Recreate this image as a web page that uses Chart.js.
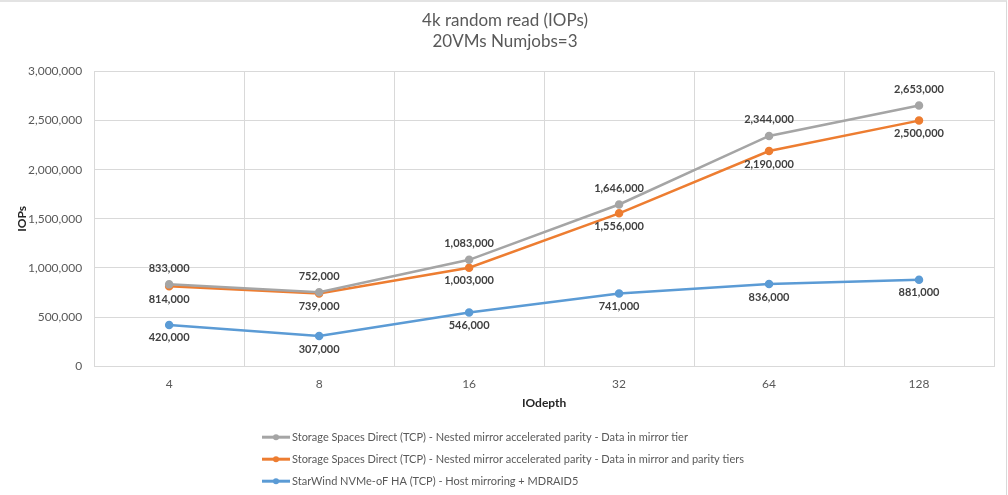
<!DOCTYPE html>
<html>
<head>
<meta charset="utf-8">
<script src="https://cdn.jsdelivr.net/npm/chart.js@4.4.1/dist/chart.umd.min.js"></script>
<style>
  body { margin: 0; background: #fff; }
  #wrap {
    width: 1006px; height: 493px;
    border-top: 2px solid #e3e3e3;
    border-right: 1px solid #d9d9d9;
    position: relative;
  }
</style>
</head>
<body>
<div id="wrap"><canvas id="iopsChart"></canvas></div>
<script>
// Chart data
var ioDepths = ['4', '8', '16', '32', '64', '128'];
var s2dMirrorTier = [833000, 752000, 1083000, 1646000, 2344000, 2653000];
var s2dMirrorParity = [814000, 739000, 1003000, 1556000, 2190000, 2500000];
var starwindMdraid = [420000, 307000, 546000, 741000, 836000, 881000];
var seriesNames = [
  'Storage Spaces Direct (TCP) - Nested mirror accelerated parity - Data in mirror tier',
  'Storage Spaces Direct (TCP) - Nested mirror accelerated parity - Data in mirror and parity tiers',
  'StarWind NVMe-oF HA (TCP) - Host mirroring + MDRAID5'
];

var FONT = 'Lato, "Open Sans", sans-serif';
var TEXT_COLOR = '#595959';

function fmt(v) {
  return Number(v).toLocaleString('en-US');
}

// draws the value labels next to each point (above or below)
var pointLabels = {
  id: 'pointLabels',
  afterDatasetsDraw: function (chart) {
    var ctx = chart.ctx;
    ctx.save();
    ctx.font = 'bold 11px ' + FONT;
    ctx.fillStyle = '#404040';
    ctx.textAlign = 'center';
    ctx.textBaseline = 'middle';
    chart.data.datasets.forEach(function (ds, i) {
      var meta = chart.getDatasetMeta(i);
      meta.data.forEach(function (pt, j) {
        var dy = ds.labelPos === 'above' ? -16 : 13;
        ctx.fillText(fmt(ds.data[j]), pt.x, pt.y + dy);
      });
    });
    ctx.restore();
  }
};

// y axis title + stacked legend under the plot, like the excel one
var extras = {
  id: 'extras',
  afterDraw: function (chart) {
    var ctx = chart.ctx;
    var area = chart.chartArea;
    ctx.save();
    ctx.font = 'bold 12px ' + FONT;
    ctx.fillStyle = '#262626';
    ctx.textAlign = 'center';
    ctx.textBaseline = 'middle';
    ctx.translate(22, (area.top + area.bottom) / 2);
    ctx.rotate(-Math.PI / 2);
    ctx.fillText('IOPs', 0, 0);
    ctx.restore();

    ctx.save();
    ctx.font = '11px ' + FONT;
    ctx.textAlign = 'left';
    ctx.textBaseline = 'middle';
    var x0 = 262;
    chart.data.datasets.forEach(function (ds, i) {
      var y = area.bottom + 71 + i * 22;
      ctx.strokeStyle = ds.borderColor;
      ctx.lineWidth = 3;
      ctx.beginPath();
      ctx.moveTo(x0, y);
      ctx.lineTo(x0 + 28, y);
      ctx.stroke();
      ctx.fillStyle = ds.borderColor;
      ctx.beginPath();
      ctx.arc(x0 + 14, y, 3, 0, Math.PI * 2);
      ctx.fill();
      ctx.fillStyle = TEXT_COLOR;
      ctx.fillText(ds.label, x0 + 30, y);
    });
    ctx.restore();
  }
};

function makeSet(label, data, color, pos) {
  return {
    label: label,
    data: data,
    borderColor: color,
    backgroundColor: color,
    borderWidth: 2.5,
    pointRadius: 3,
    pointHoverRadius: 3,
    pointBackgroundColor: color,
    pointBorderColor: color,
    tension: 0,
    fill: false,
    labelPos: pos
  };
}

var ctx = document.getElementById('iopsChart').getContext('2d');
var iopsChart = new Chart(ctx, {
  type: 'line',
  data: {
    labels: ioDepths,
    datasets: [
      makeSet(seriesNames[0], s2dMirrorTier, '#A5A5A5', 'above'),
      makeSet(seriesNames[1], s2dMirrorParity, '#ED7D31', 'below'),
      makeSet(seriesNames[2], starwindMdraid, '#5B9BD5', 'below')
    ]
  },
  options: {
    responsive: true,
    maintainAspectRatio: false,
    animation: false,
    layout: {
      padding: { left: 16, right: 12, top: 0, bottom: 71 }
    },
    plugins: {
      legend: { display: false },
      tooltip: { enabled: false },
      title: {
        display: true,
        text: ['4k random read (IOPs)', '20VMs Numjobs=3'],
        color: TEXT_COLOR,
        font: { family: FONT, size: 17, weight: 'normal', lineHeight: 1.25 },
        padding: { top: 8, bottom: 19 }
      }
    },
    scales: {
      x: {
        offset: true,
        grid: { offset: true, color: '#D9D9D9', drawTicks: false },
        border: { color: '#D9D9D9' },
        ticks: { color: TEXT_COLOR, font: { family: FONT, size: 12 }, padding: 11 },
        title: {
          display: true,
          text: 'IOdepth',
          color: '#262626',
          font: { family: FONT, size: 12, weight: 'bold' },
          padding: { top: -7, bottom: 14 }
        }
      },
      y: {
        min: 0,
        max: 3000000,
        grid: { color: '#D9D9D9', drawTicks: false },
        border: { display: false },
        ticks: {
          stepSize: 500000,
          color: TEXT_COLOR,
          font: { family: FONT, size: 12 },
          padding: 12,
          callback: function (v) { return fmt(v); }
        }
      }
    }
  },
  plugins: [pointLabels, extras]
});
</script>
</body>
</html>
